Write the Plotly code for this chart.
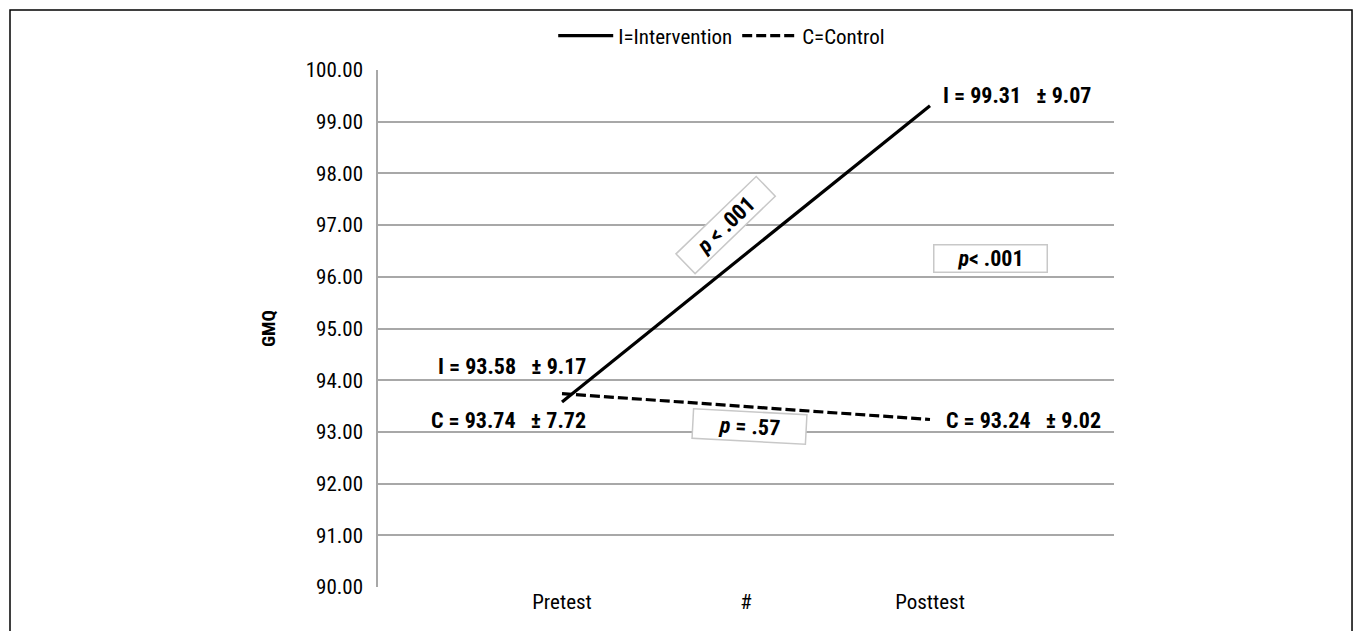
import plotly.graph_objects as go

# ---- data ----
tick_labels = ["Pretest", "#", "Posttest"]
tick_pos = [1, 2, 3]
time_x = [1, 3]
intervention = [93.58, 99.31]
control = [93.74, 93.24]
intervention_sd = [9.17, 9.07]
control_sd = [7.72, 9.02]
p_within_i = ".001"
p_within_c = ".57"
p_between_post = ".001"

FONT = "Liberation Sans Narrow, Roboto Condensed, Arial Narrow, DejaVu Sans Condensed, sans-serif"
NB = "\u00a0"

fig = go.Figure()
fig.add_trace(go.Scatter(x=time_x, y=intervention, mode="lines", name="I=Intervention",
                         line=dict(color="black", width=3.2)))
fig.add_trace(go.Scatter(x=time_x, y=control, mode="lines", name="C=Control",
                         line=dict(color="black", width=3.2, dash="10px,4px")))

lab = dict(showarrow=False, font=dict(family=FONT, size=22, color="black"))
fig.add_annotation(x=0.73, y=94.26, text=f"<b>I = {intervention[0]:.2f}{NB*2} ± {intervention_sd[0]:.2f}</b>", **lab)
fig.add_annotation(x=0.71, y=93.23, text=f"<b>C = {control[0]:.2f}{NB*2} ± {control_sd[0]:.2f}</b>", **lab)
fig.add_annotation(x=3.475, y=99.50, text=f"<b>I = {intervention[1]:.2f}{NB*2} ± {intervention_sd[1]:.2f}</b>", **lab)
fig.add_annotation(x=3.51, y=93.23, text=f"<b>C = {control[1]:.2f}{NB*2} ± {control_sd[1]:.2f}</b>", **lab)

box = dict(showarrow=False, font=dict(family=FONT, size=22, color="black"),
           bgcolor="white", bordercolor="#c8c8c8", borderwidth=1.5, borderpad=2)
fig.add_annotation(x=1.886, y=97.0, text=f"<b><i>p</i> < {p_within_i}</b>", textangle=-44,
                   width=106, height=22, **box)
fig.add_annotation(x=3.33, y=96.36, text=f"<b><i>p</i>< {p_between_post}</b>",
                   width=108, height=22, **box)
fig.add_annotation(x=2.02, y=93.11, text=f"<b><i>p</i> = {p_within_c}</b>", textangle=3,
                   width=108, height=24, **box)

# outer frame
fig.add_shape(type="rect", xref="paper", yref="paper", x0=-0.5, x1=1.3234, y0=-0.2, y1=1.116,
              line=dict(color="black", width=1.5), fillcolor="rgba(0,0,0,0)", layer="below")

fig.update_layout(
    width=1354, height=623,
    margin=dict(l=370, r=248, t=62, b=44, autoexpand=False),
    paper_bgcolor="white", plot_bgcolor="white",
    font=dict(family=FONT, size=19, color="black"),
    showlegend=True,
    legend=dict(orientation="h", x=0.467, xanchor="center", y=1.066, yanchor="middle",
                font=dict(family=FONT, size=21), itemwidth=55, bgcolor="rgba(0,0,0,0)"),
    xaxis=dict(range=[0, 4], tickvals=tick_pos, ticktext=tick_labels, showgrid=False,
               zeroline=False, showline=False, ticks="", tickfont=dict(size=21)),
    yaxis=dict(range=[90, 100], dtick=1, tickformat=".2f", showgrid=True, gridcolor="#a8a8a8",
               gridwidth=1.5, zeroline=False, showline=True, linecolor="#a8a8a8", linewidth=1.5,
               ticks="outside", ticklen=9, tickcolor="rgba(0,0,0,0)", tickfont=dict(size=21),
               title=dict(text="<b>GMQ</b>", font=dict(size=19), standoff=25)),
)

fig.write_html("out.html")
